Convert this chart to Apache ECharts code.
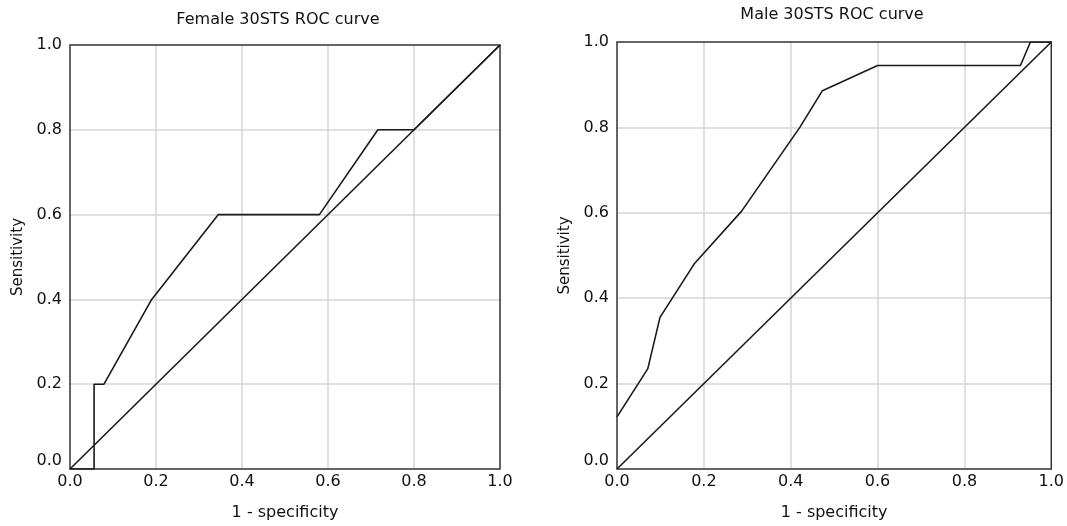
<!DOCTYPE html>
<html>
<head>
<meta charset="utf-8">
<script src="https://cdn.jsdelivr.net/npm/echarts@6/dist/echarts.min.js"></script>
<style>html,body{margin:0;padding:0;background:#fff}#c{width:1067px;height:526px}</style>
</head>
<body>
<div id="c"></div>
<script>
var ticks = [0, 0.2, 0.4, 0.6, 0.8, 1.0];
var femaleTitle = 'Female 30STS ROC curve';
var maleTitle = 'Male 30STS ROC curve';
var xName = '1 - specificity';
var yName = 'Sensitivity';
var femaleFpr = [0, 0.056, 0.056, 0.079, 0.19, 0.345, 0.58, 0.716, 0.8, 1.0];
var femaleTpr = [0, 0, 0.2, 0.2, 0.4, 0.6, 0.6, 0.8, 0.8, 1.0];
var maleFpr = [0, 0.071, 0.099, 0.179, 0.287, 0.421, 0.473, 0.6, 0.929, 0.952, 1.0];
var maleTpr = [0.122, 0.235, 0.355, 0.482, 0.604, 0.8, 0.886, 0.945, 0.945, 1.0, 1.0];
var diagX = [0, 1];
var diagY = [0, 1];

function pairs(xs, ys) { return xs.map(function (x, i) { return [x, ys[i]]; }); }

var font = 'DejaVu Sans';
function xAxis(gi) {
  return {
    gridIndex: gi, type: 'value', min: 0, max: 1, interval: 0.2,
    name: xName, nameLocation: 'middle', nameGap: 36,
    nameTextStyle: { fontFamily: font, fontSize: 16, color: '#111' },
    axisLine: { show: false }, axisTick: { show: false },
    axisLabel: { fontFamily: font, fontSize: 16, color: '#111', margin: 5,
      formatter: function (v) { return v.toFixed(1); } },
    splitLine: { show: true, showMinLine: false, showMaxLine: false, lineStyle: { color: '#d6d6d6', width: 1.5 } }
  };
}
function yAxis(gi) {
  return {
    gridIndex: gi, type: 'value', min: 0, max: 1, interval: 0.2,
    name: yName, nameLocation: 'middle', nameGap: 44,
    nameTextStyle: { fontFamily: font, fontSize: 15, color: '#111' },
    axisLine: { show: false }, axisTick: { show: false },
    axisLabel: { fontFamily: font, fontSize: 16, color: '#111', margin: 8,
      formatter: function (v) { return v === 0 ? '{b|0.0}' : v.toFixed(1); },
      rich: { b: { fontFamily: font, fontSize: 16, color: '#111', padding: [0, 0, 16, 0] } } },
    splitLine: { show: true, showMinLine: false, showMaxLine: false, lineStyle: { color: '#d6d6d6', width: 1.5 } }
  };
}
function line(data, xi) {
  return { type: 'line', xAxisIndex: xi, yAxisIndex: xi, data: data, symbol: 'none',
    lineStyle: { color: '#1a1a1a', width: 1.6 }, silent: true, animation: false };
}

var chart = echarts.init(document.getElementById('c'), null, { renderer: 'canvas' });
chart.setOption({
  animation: false,
  backgroundColor: '#fff',
  title: [
    { text: femaleTitle, left: 278, top: 12, textAlign: 'center', padding: 0,
      textStyle: { fontFamily: font, fontSize: 16, fontWeight: 'normal', color: '#111' } },
    { text: maleTitle, left: 832, top: 7, textAlign: 'center', padding: 0,
      textStyle: { fontFamily: font, fontSize: 16, fontWeight: 'normal', color: '#111' } }
  ],
  grid: [
    { left: 70, top: 45, width: 430, height: 430, show: true, borderColor: '#333', borderWidth: 1.5, backgroundColor: 'transparent', z: 3 },
    { left: 617, top: 42, width: 435, height: 434, show: true, borderColor: '#333', borderWidth: 1.5, backgroundColor: 'transparent', z: 3 }
  ],
  xAxis: [xAxis(0), xAxis(1)],
  yAxis: [yAxis(0), yAxis(1)],
  series: [
    line(pairs(femaleFpr, femaleTpr), 0),
    line(pairs(diagX, diagY), 0),
    line(pairs(maleFpr, maleTpr), 1),
    line(pairs(diagX, diagY), 1)
  ]
});
</script>
</body>
</html>
